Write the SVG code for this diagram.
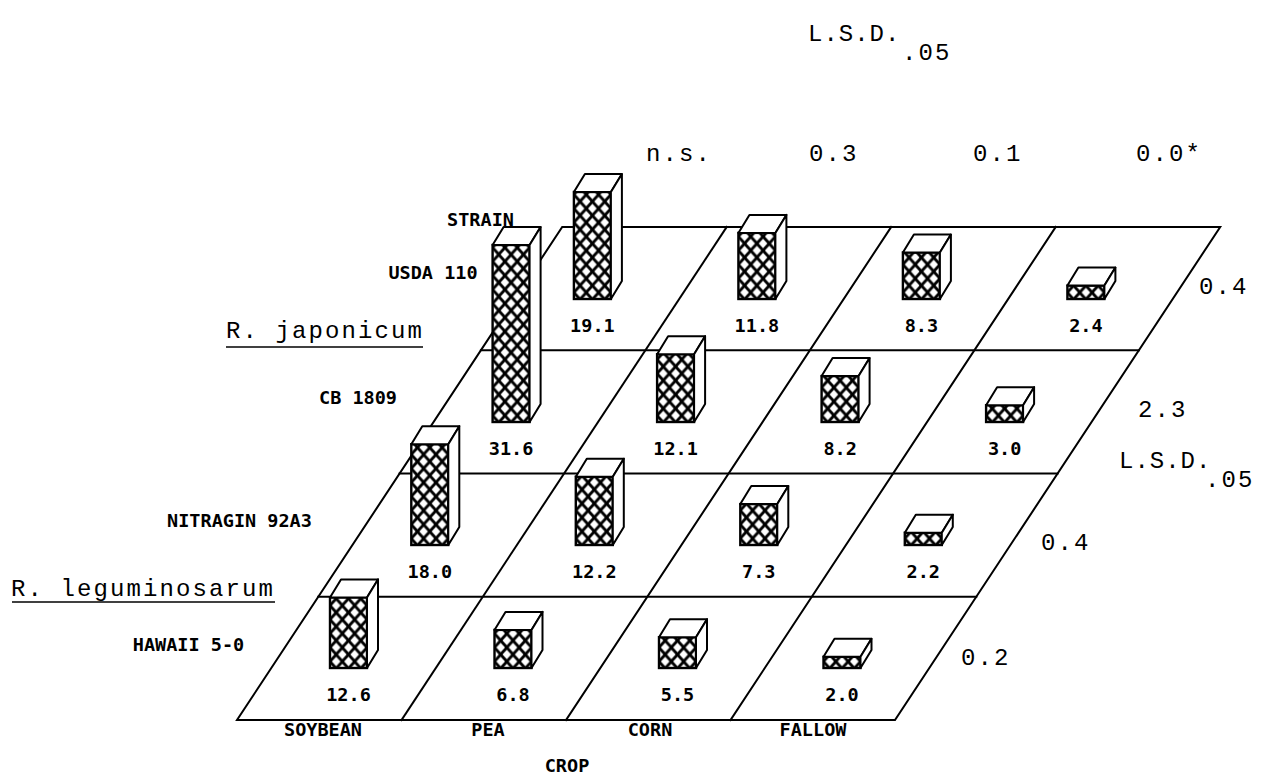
<svg xmlns="http://www.w3.org/2000/svg" width="1272" height="774" viewBox="0 0 1272 774">
<style>
.ln{stroke:#000;stroke-width:2;fill:none;stroke-linecap:square}
.face{fill:#fff;stroke:#000;stroke-width:2;stroke-linejoin:round}
.front{fill:url(#hatch);stroke:#000;stroke-width:2.4}
.lab{font-family:"DejaVu Sans Mono",monospace;font-weight:bold;font-size:18.5px;fill:#000}
.tw{font-family:"Liberation Mono","Courier New",monospace;font-size:24px;letter-spacing:2.1px;fill:#000}
.tn{letter-spacing:1px}
.ul{stroke:#000;stroke-width:1.5}
</style>
<defs>
<pattern id="hatch" patternUnits="userSpaceOnUse" x="0" y="0.5" width="12.33" height="14">
<rect width="12.33" height="14" fill="#000"/>
<path fill="#fff" d="M6.17,2.2L10.47,7L6.17,11.8L1.87,7Z M0,-4.8L4.3,0L0,4.8L-4.3,0Z M12.33,-4.8L16.63,0L12.33,4.8L8.03,0Z M0,9.2L4.3,14L0,18.8L-4.3,14Z M12.33,9.2L16.63,14L12.33,18.8L8.03,14Z"/>
</pattern>
</defs>
<rect width="1272" height="774" fill="#fff"/>
<g id="connectors">
<polygon class="ln" points="237,720 895,720 1220.2,227 562.2,227"/>
<line class="ln" x1="318.3" y1="596.75" x2="976.3" y2="596.75"/>
<line class="ln" x1="399.6" y1="473.5" x2="1057.6" y2="473.5"/>
<line class="ln" x1="480.9" y1="350.25" x2="1138.9" y2="350.25"/>
<line class="ln" x1="401.5" y1="720" x2="726.7" y2="227"/>
<line class="ln" x1="566" y1="720" x2="891.2" y2="227"/>
<line class="ln" x1="730.5" y1="720" x2="1055.7" y2="227"/>
</g>
<g id="bars">
<g id="bar-usda-soybean" transform="translate(573.9,299)"><rect class="front" x="0" y="-107" width="37" height="107"/><polygon class="face" points="0,-107 37,-107 48,-125 11,-125"/><polygon class="face" points="37,0 37,-107 48,-125 48,-18"/></g>
<g id="bar-usda-pea" transform="translate(738.4,299)"><rect class="front" x="0" y="-66.1" width="37" height="66.1"/><polygon class="face" points="0,-66.1 37,-66.1 48,-84.1 11,-84.1"/><polygon class="face" points="37,0 37,-66.1 48,-84.1 48,-18"/></g>
<g id="bar-usda-corn" transform="translate(902.9,299)"><rect class="front" x="0" y="-46.5" width="37" height="46.5"/><polygon class="face" points="0,-46.5 37,-46.5 48,-64.5 11,-64.5"/><polygon class="face" points="37,0 37,-46.5 48,-64.5 48,-18"/></g>
<g id="bar-usda-fallow" transform="translate(1067.4,299)"><rect class="front" x="0" y="-13.4" width="37" height="13.4"/><polygon class="face" points="0,-13.4 37,-13.4 48,-31.4 11,-31.4"/><polygon class="face" points="37,0 37,-13.4 48,-31.4 48,-18"/></g>
<g id="bar-cb-soybean" transform="translate(492.6,422)"><rect class="front" x="0" y="-177" width="37" height="177"/><polygon class="face" points="0,-177 37,-177 48,-195 11,-195"/><polygon class="face" points="37,0 37,-177 48,-195 48,-18"/></g>
<g id="bar-cb-pea" transform="translate(657.1,422)"><rect class="front" x="0" y="-67.8" width="37" height="67.8"/><polygon class="face" points="0,-67.8 37,-67.8 48,-85.8 11,-85.8"/><polygon class="face" points="37,0 37,-67.8 48,-85.8 48,-18"/></g>
<g id="bar-cb-corn" transform="translate(821.6,422)"><rect class="front" x="0" y="-45.9" width="37" height="45.9"/><polygon class="face" points="0,-45.9 37,-45.9 48,-63.9 11,-63.9"/><polygon class="face" points="37,0 37,-45.9 48,-63.9 48,-18"/></g>
<g id="bar-cb-fallow" transform="translate(986.1,422)"><rect class="front" x="0" y="-16.8" width="37" height="16.8"/><polygon class="face" points="0,-16.8 37,-16.8 48,-34.8 11,-34.8"/><polygon class="face" points="37,0 37,-16.8 48,-34.8 48,-18"/></g>
<g id="bar-nit-soybean" transform="translate(411.3,545)"><rect class="front" x="0" y="-100.8" width="37" height="100.8"/><polygon class="face" points="0,-100.8 37,-100.8 48,-118.8 11,-118.8"/><polygon class="face" points="37,0 37,-100.8 48,-118.8 48,-18"/></g>
<g id="bar-nit-pea" transform="translate(575.8,545)"><rect class="front" x="0" y="-68.3" width="37" height="68.3"/><polygon class="face" points="0,-68.3 37,-68.3 48,-86.3 11,-86.3"/><polygon class="face" points="37,0 37,-68.3 48,-86.3 48,-18"/></g>
<g id="bar-nit-corn" transform="translate(740.3,545)"><rect class="front" x="0" y="-40.9" width="37" height="40.9"/><polygon class="face" points="0,-40.9 37,-40.9 48,-58.9 11,-58.9"/><polygon class="face" points="37,0 37,-40.9 48,-58.9 48,-18"/></g>
<g id="bar-nit-fallow" transform="translate(904.8,545)"><rect class="front" x="0" y="-12.3" width="37" height="12.3"/><polygon class="face" points="0,-12.3 37,-12.3 48,-30.3 11,-30.3"/><polygon class="face" points="37,0 37,-12.3 48,-30.3 48,-18"/></g>
<g id="bar-haw-soybean" transform="translate(330,668)"><rect class="front" x="0" y="-70.6" width="37" height="70.6"/><polygon class="face" points="0,-70.6 37,-70.6 48,-88.6 11,-88.6"/><polygon class="face" points="37,0 37,-70.6 48,-88.6 48,-18"/></g>
<g id="bar-haw-pea" transform="translate(494.5,668)"><rect class="front" x="0" y="-38.1" width="37" height="38.1"/><polygon class="face" points="0,-38.1 37,-38.1 48,-56.1 11,-56.1"/><polygon class="face" points="37,0 37,-38.1 48,-56.1 48,-18"/></g>
<g id="bar-haw-corn" transform="translate(659,668)"><rect class="front" x="0" y="-30.8" width="37" height="30.8"/><polygon class="face" points="0,-30.8 37,-30.8 48,-48.8 11,-48.8"/><polygon class="face" points="37,0 37,-30.8 48,-48.8 48,-18"/></g>
<g id="bar-haw-fallow" transform="translate(823.5,668)"><rect class="front" x="0" y="-11.2" width="37" height="11.2"/><polygon class="face" points="0,-11.2 37,-11.2 48,-29.2 11,-29.2"/><polygon class="face" points="37,0 37,-11.2 48,-29.2 48,-18"/></g>
</g>
<g id="values" class="lab" text-anchor="middle">
<text x="592.4" y="332">19.1</text><text x="756.9" y="332">11.8</text><text x="921.4" y="332">8.3</text><text x="1085.9" y="332">2.4</text>
<text x="511.1" y="455">31.6</text><text x="675.6" y="455">12.1</text><text x="840.1" y="455">8.2</text><text x="1004.6" y="455">3.0</text>
<text x="429.8" y="578">18.0</text><text x="594.3" y="578">12.2</text><text x="758.8" y="578">7.3</text><text x="923.3" y="578">2.2</text>
<text x="348.5" y="701">12.6</text><text x="513" y="701">6.8</text><text x="677.5" y="701">5.5</text><text x="842" y="701">2.0</text>
</g>
<g id="strain-labels" class="lab" text-anchor="middle">
<text x="480.5" y="226">STRAIN</text>
<text x="433" y="279">USDA 110</text>
<text x="358" y="404">CB 1809</text>
<text x="239.5" y="527">NITRAGIN 92A3</text>
<text x="188.5" y="651">HAWAII 5-0</text>
</g>
<g id="crop-labels" class="lab" text-anchor="middle">
<text x="323" y="736">SOYBEAN</text>
<text x="488" y="736">PEA</text>
<text x="650" y="736">CORN</text>
<text x="813" y="736">FALLOW</text>
<text x="567" y="772">CROP</text>
</g>
<g id="species">
<text class="tw" x="226" y="338">R. japonicum</text>
<line class="ul" x1="226" y1="347" x2="423" y2="347"/>
<text class="tw" x="11" y="596">R. leguminosarum</text>
<line class="ul" x1="12" y1="602" x2="275" y2="602"/>
</g>
<g id="lsd" class="tw">
<text class="tn" x="808" y="41">L.S.D.</text><text x="902" y="60">.05</text>
<text x="646" y="161">n.s.</text><text x="809" y="161">0.3</text><text x="973" y="161">0.1</text><text x="1136" y="161">0.0*</text>
<text x="1199" y="294">0.4</text>
<text x="1138" y="417">2.3</text>
<text class="tn" x="1119" y="468">L.S.D.</text><text x="1205" y="487">.05</text>
<text x="1041" y="550">0.4</text>
<text x="961" y="665">0.2</text>
</g>
</svg>
